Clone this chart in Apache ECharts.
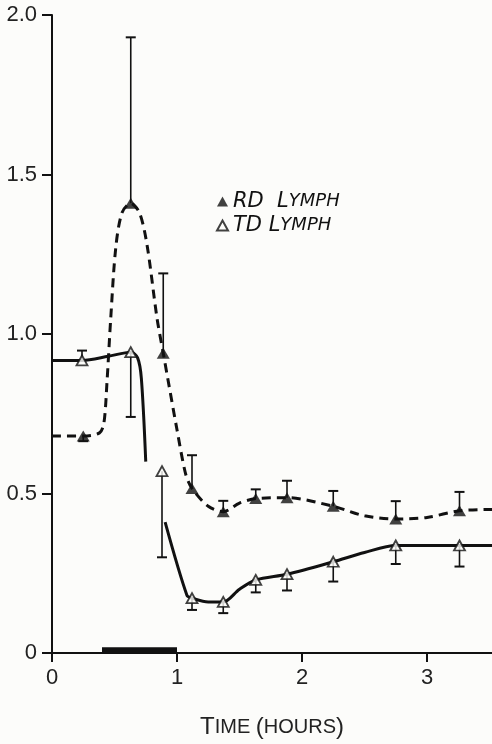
<!DOCTYPE html>
<html>
<head>
<meta charset="utf-8">
<script src="https://cdn.jsdelivr.net/npm/echarts@6/dist/echarts.min.js"></script>
<style>
  html, body { margin: 0; padding: 0; background: #fcfcfa; }
  #chart { width: 492px; height: 744px; }
</style>
</head>
<body>
<div id="chart"></div>
<script>
// RD lymph (filled triangles, dashed)
const rdX = [0.25, 0.63, 0.89, 1.12, 1.37, 1.63, 1.88, 2.25, 2.75, 3.26]
const rdY = [0.68, 1.41, 0.94, 0.516, 0.443, 0.484, 0.487, 0.46, 0.42, 0.446]
const rdHigh = [null, 1.93, 1.19, 0.62, 0.477, 0.513, 0.54, 0.508, 0.476, 0.505]
const rdLow = [0.664, null, null, null, null, null, null, null, null, null]
// TD lymph (open triangles, solid)
const tdX = [0.24, 0.63, 0.88, 1.12, 1.37, 1.63, 1.88, 2.25, 2.75, 3.26]
const tdY = [0.917, 0.943, 0.57, 0.172, 0.16, 0.229, 0.247, 0.286, 0.337, 0.337]
const tdHigh = [0.948, null, null, null, null, null, null, null, null, null]
const tdLow = [null, 0.74, 0.30, 0.135, 0.125, 0.19, 0.196, 0.224, 0.279, 0.271]
// hand-drawn curves
const rdPath = [[0, 0.68], [0.25, 0.68], [0.38, 0.69], [0.415, 0.72], [0.44, 0.85], [0.47, 1.05],
  [0.51, 1.27], [0.56, 1.38], [0.63, 1.41], [0.7, 1.38], [0.76, 1.28], [0.84, 1.05], [0.89, 0.94],
  [1.0, 0.7], [1.07, 0.56], [1.12, 0.516], [1.25, 0.46], [1.37, 0.443], [1.5, 0.47], [1.63, 0.484],
  [1.88, 0.487], [2.25, 0.46], [2.5, 0.43], [2.75, 0.42], [3.0, 0.425], [3.26, 0.446], [3.52, 0.45]]
const tdPath = [[0, 0.917], [0.24, 0.917], [0.45, 0.93], [0.63, 0.943], [0.685, 0.925], [0.715, 0.86],
  [0.75, 0.6], null, [0.905, 0.41], [1.08, 0.18], [1.12, 0.172], [1.25, 0.16], [1.37, 0.16],
  [1.5, 0.2], [1.63, 0.229], [1.88, 0.247], [2.25, 0.286], [2.5, 0.315], [2.75, 0.337], [3.26, 0.337], [3.52, 0.337]]
// infusion period bar on the time axis
const infusion = [0.4, 1.0]
const yTicks = [0, 0.5, 1.0, 1.5, 2.0]
const xTicks = [0, 1, 2, 3]

const font = 'Liberation Sans'

function errData (xs, ys, lows, highs) {
  return xs.map((x, i) => [x, ys[i], lows[i], highs[i]])
}

function renderErr (params, api) {
  const x = api.value(0)
  const y = api.value(1)
  const lo = api.value(2)
  const hi = api.value(3)
  const hasHi = !(isNaN(hi) || hi === null)
  const hasLo = !(isNaN(lo) || lo === null)
  const top = api.coord([x, hasHi ? hi : y])
  const bot = api.coord([x, hasLo ? lo : y])
  const children = [{ type: 'line', shape: { x1: top[0], y1: top[1], x2: bot[0], y2: bot[1] }, style: { stroke: '#111', lineWidth: 1.6 } }]
  const w = 5
  if (hasHi) {
    children.push({ type: 'line', shape: { x1: top[0] - w, y1: top[1], x2: top[0] + w, y2: top[1] }, style: { stroke: '#111', lineWidth: 2 } })
  }
  if (hasLo) {
    children.push({ type: 'line', shape: { x1: bot[0] - w, y1: bot[1], x2: bot[0] + w, y2: bot[1] }, style: { stroke: '#111', lineWidth: 2 } })
  }
  return { type: 'group', children }
}

const myChart = echarts.init(document.getElementById('chart'))
const option = {
  backgroundColor: '#fcfcfa',
  animation: false,
  grid: { left: 52, right: 0, top: 15, bottom: 89 },
  legend: {
    orient: 'vertical',
    left: 211,
    top: 186,
    itemWidth: 11,
    itemHeight: 10,
    itemGap: 3,
    data: ['RD LYMPH', 'TD LYMPH'],
    formatter: (name) => name === 'RD LYMPH' ? '{a|RD  L}{b|YMPH}' : '{a|TD L}{b|YMPH}',
    textStyle: {
      lineHeight: 21,
      rich: {
        a: { fontFamily: 'DejaVu Sans', fontStyle: 'italic', fontSize: 21, color: '#111' },
        b: { fontFamily: 'DejaVu Sans', fontStyle: 'italic', fontSize: 18, color: '#111' }
      }
    }
  },
  xAxis: {
    type: 'value',
    min: 0,
    max: 3.52,
    interval: 1,
    splitLine: { show: false },
    axisLine: { onZero: false, lineStyle: { color: '#111', width: 2 } },
    axisTick: { show: true, length: 9, customValues: xTicks, lineStyle: { color: '#111', width: 2 } },
    axisLabel: {
      margin: 14,
      fontFamily: font,
      fontSize: 22,
      color: '#222',
      customValues: xTicks
    },
    name: '{a|T}{b|IME }{a|(}{b|HOURS}{a|)}',
    nameLocation: 'middle',
    nameGap: 62,
    nameTextStyle: {
      rich: {
        a: { fontFamily: font, fontSize: 24, color: '#222' },
        b: { fontFamily: font, fontSize: 20, color: '#222' }
      }
    }
  },
  yAxis: {
    type: 'value',
    min: 0,
    max: 2,
    interval: 0.5,
    splitLine: { show: false },
    axisLine: { show: true, lineStyle: { color: '#111', width: 2 } },
    axisTick: { show: true, length: 10, lineStyle: { color: '#111', width: 2 } },
    axisLabel: {
      margin: 15,
      fontFamily: font,
      fontSize: 22,
      color: '#222',
      formatter: (v) => yTicks.includes(v) ? (v === 0 ? '0' : v.toFixed(1)) : ''
    }
  },
  series: [
    {
      name: 'infusion',
      type: 'line',
      data: infusion.map(x => [x, 0.009]),
      symbol: 'none',
      lineStyle: { color: '#111', width: 6 },
      z: 3
    },
    {
      name: 'rdCurve',
      type: 'line',
      data: rdPath,
      smooth: 0.3,
      symbol: 'none',
      lineStyle: { color: '#111', width: 3, type: [9, 6] },
      z: 2
    },
    {
      name: 'tdCurve',
      type: 'line',
      data: tdPath,
      smooth: 0.3,
      connectNulls: false,
      symbol: 'none',
      lineStyle: { color: '#111', width: 3 },
      z: 2
    },
    {
      name: 'rdErr',
      type: 'custom',
      renderItem: renderErr,
      data: errData(rdX, rdY, rdLow, rdHigh),
      z: 3
    },
    {
      name: 'tdErr',
      type: 'custom',
      renderItem: renderErr,
      data: errData(tdX, tdY, tdLow, tdHigh),
      z: 3
    },
    {
      name: 'RD LYMPH',
      type: 'scatter',
      data: rdX.map((x, i) => [x, rdY[i]]),
      symbol: 'triangle',
      symbolSize: [13, 11],
      itemStyle: { color: '#111' },
      z: 5
    },
    {
      name: 'TD LYMPH',
      type: 'scatter',
      data: tdX.map((x, i) => [x, tdY[i]]),
      symbol: 'triangle',
      symbolSize: [11, 10],
      itemStyle: { color: '#fcfcfa', borderColor: '#111', borderWidth: 1.8 },
      z: 5
    }
  ]
}
myChart.setOption(option)
</script>
</body>
</html>
